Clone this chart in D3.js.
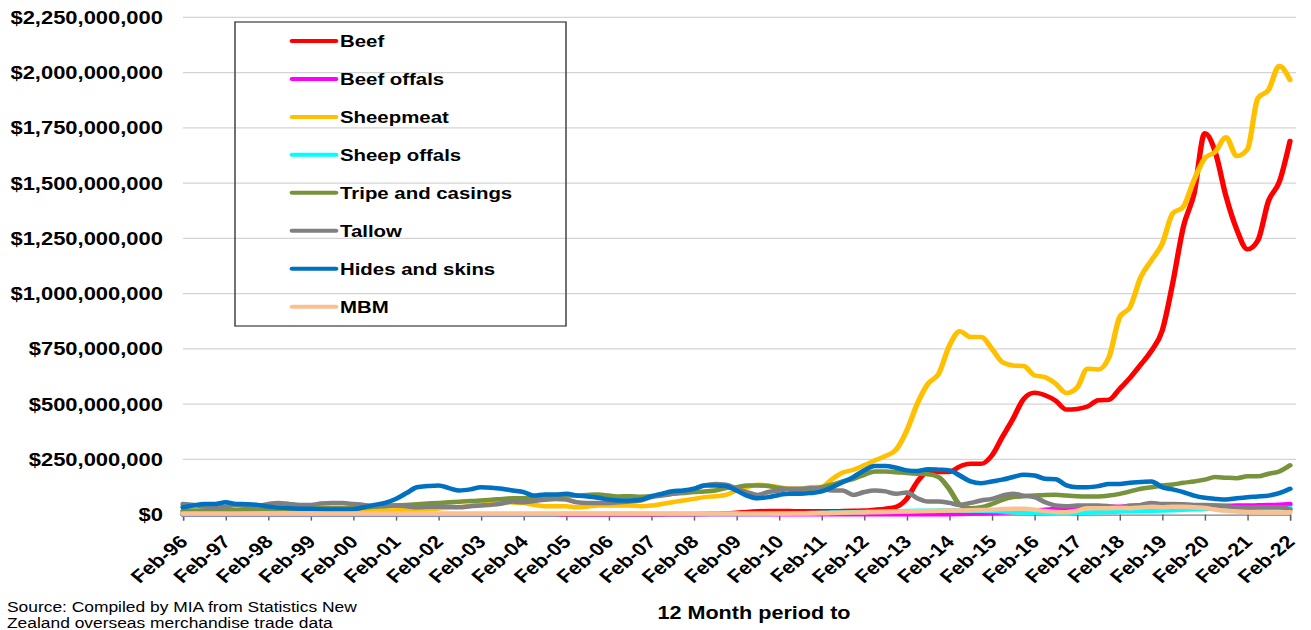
<!DOCTYPE html>
<html>
<head>
<meta charset="utf-8">
<script src="https://cdn.jsdelivr.net/npm/d3@7"></script>
<style>
  html, body { margin: 0; padding: 0; background: #fff; overflow: hidden; }
  svg { display: block; font-family: "Liberation Sans", Arial, Helvetica, sans-serif; }
</style>
</head>
<body>
<div id="chart"></div>
<script>
// ---------- DATA (12-month rolling export values, $ millions, quarterly: Feb, May, Aug, Nov) ----------
const seriesNames = ["Beef", "Beef offals", "Sheepmeat", "Sheep offals", "Tripe and casings", "Tallow", "Hides and skins", "MBM"];
const seriesColors = ["#ff0000", "#ff00ff", "#ffc000", "#00ffff", "#77933c", "#808080", "#0070c0", "#fac090"];
const tickLabels = ["Feb-96","Feb-97","Feb-98","Feb-99","Feb-00","Feb-01","Feb-02","Feb-03","Feb-04","Feb-05","Feb-06","Feb-07","Feb-08","Feb-09","Feb-10","Feb-11","Feb-12","Feb-13","Feb-14","Feb-15","Feb-16","Feb-17","Feb-18","Feb-19","Feb-20","Feb-21","Feb-22"];
const yTickValues = [0, 250, 500, 750, 1000, 1250, 1500, 1750, 2000, 2250];

const beef = [
  1,1,1,1, 1,1,1,1, 1,1,1,1, 1,1,1,1, 1,1,1,1, 1,1,1,1, 1,1,1,1, 1,1,1,1,
  1,1,1,1, 1,1,1,1, 1,1,1,1, 1,1,2,2, 2,3,4,6, 8,12,15,16, 16,16,15,15,
  15,15,16,17, 18,22,27,35, 72,148,193,193, 193,218,230,230, 268,351,434,524,
  551,540,515,475, 478,489,517,520, 569,619,679,742, 833,1045,1302,1453,
  1725,1640,1440,1290, 1200,1240,1420,1505, 1690
];
const beefOffals = [
  2,2,2,2, 2,2,2,2, 2,2,2,2, 2,2,2,2, 2,2,2,2, 2,2,2,2, 2,2,2,2, 2,2,2,2,
  2,2,2,2, 2,2,2,2, 2,2,2,2, 2,2,2,2, 2,2,2,2, 2,2,2,2, 2,2,2,2,
  2,2,2,2, 2,2,2,2, 2,2,2,2, 2,3,4,5, 6,9,12,15,
  18,22,26,30, 33,35,36,36, 36,37,37,38, 38,38,39,39,
  40,40,40,41, 41,42,43,45, 48
];
const sheepmeat = [
  12,12,12,12, 13,13,13,13, 14,14,14,14, 14,14,15,15, 15,16,18,18, 20,21,22,24, 28,31,35,40, 45,52,60,55,
  52,44,38,38, 38,33,36,41, 41,41,41,38, 41,48,56,64, 71,79,83,89, 109,124,135,132, 124,117,117,124,
  125,160,190,203, 223,245,265,294, 381,501,592,637, 765,830,803,803, 750,690,675,672,
  630,622,592,550, 575,660,657,712, 894,939,1075,1151, 1226,1362,1393,1514,
  1612,1642,1707,1622, 1653,1884,1922,2030, 1967
];
const sheepOffals = [
  2,2,2,2, 2,2,2,2, 2,2,2,2, 2,2,2,2, 2,2,2,2, 2,2,2,2, 2,2,2,2, 2,2,2,2,
  2,2,2,2, 3,3,3,3, 3,3,3,3, 3,3,3,3, 3,3,3,3, 3,3,3,3, 4,5,6,7,
  8,9,10,11, 12,13,14,15, 16,17,17,18, 18,18,17,17, 16,14,12,10,
  8,6,4,4, 8,10,11,12, 14,15,16,17, 18,20,22,24,
  26,28,29,28, 28,28,29,30, 30
];
const tripe = [
  17,18,19,20, 21,22,24,25, 26,27,28,29, 30,30,30,30, 30,32,35,38, 41,44,47,50, 53,56,58,61, 64,67,71,74,
  74,79,79,83, 86,86,89,91, 86,82,83,81, 83,89,94,98, 102,105,109,120, 124,132,132,129, 120,114,109,117,
  124,135,150,162, 180,195,195,192, 188,185,183,170, 115,45,29,33, 48,67,79,83,
  86,89,90,86, 83,82,82,86, 94,105,117,124, 132,136,144,150,
  158,170,167,165, 173,173,185,195, 223
];
const tallow = [
  48,44,36,33, 36,44,41,38, 48,53,48,44, 44,50,53,52, 48,44,38,41, 41,38,33,35, 36,35,33,38, 41,44,50,59,
  56,62,67,71, 68,56,53,53, 53,56,59,64, 79,86,94,102, 114,132,139,135, 117,102,89,102, 109,117,117,120,
  117,109,109,89, 102,109,105,94, 100,74,59,59, 53,44,53,64, 71,86,94,86,
  79,56,41,38, 41,41,41,38, 33,41,44,53, 48,48,47,44,
  44,41,38,33, 32,33,33,33, 23
];
const hides = [
  33,41,48,48, 56,48,47,44, 36,32,29,27, 26,24,23,23, 24,33,44,53, 71,97,124,129, 132,120,109,114, 124,122,117,109,
  102,86,91,91, 94,86,82,76, 68,64,64,67, 83,94,106,109, 117,132,132,129, 109,86,74,79, 89,94,94,98,
  105,124,147,170, 200,220,220,212, 200,197,205,203, 200,177,150,142, 150,158,170,180,
  177,162,160,132, 124,124,129,139, 139,144,147,150, 124,114,102,86,
  76,71,68,74, 79,82,86,97, 117
];
const mbm = [
  5,5,5,5, 5,5,5,5, 5,5,5,5, 5,5,5,5, 5,5,5,5, 5,5,5,5, 5,5,5,5, 5,5,5,5,
  5,5,5,5, 5,5,5,5, 5,5,5,5, 5,5,5,5, 5,5,5,5, 5,5,5,5, 5,5,5,5,
  6,7,8,9, 10,11,12,13, 14,15,16,17, 18,19,20,21, 22,25,27,26,
  22,16,12,11, 18,29,29,29, 30,29,32,36, 33,36,36,33,
  30,23,17,14, 11,11,9,10, 11
];
const seriesValues = [beef, beefOffals, sheepmeat, sheepOffals, tripe, tallow, hides, mbm];

// ---------- LAYOUT ----------
const W = 1311, H = 630;
const SX = 1.2;                 // the reference is horizontally stretched
const ix = v => v / SX;         // real pixel x -> inner x
const periods = beef.map((_, i) => new Date(1996, 1 + 3 * i, 1));

const svg = d3.select("#chart").append("svg")
  .attr("width", W).attr("height", H)
  .attr("viewBox", `0 0 ${W / SX} ${H}`)
  .attr("preserveAspectRatio", "none");

const x = d3.scaleTime()
  .domain([new Date(1996, 1, 1), new Date(2022, 1, 1)])
  .range([ix(183), ix(1290)]);
const y = d3.scaleLinear().domain([0, 2250]).range([514.6, 17.3]);

// gridlines
svg.append("g").selectAll("line")
  .data(yTickValues.filter(d => d > 0))
  .join("line")
  .attr("x1", ix(183)).attr("x2", ix(1296))
  .attr("y1", d => y(d)).attr("y2", d => y(d))
  .attr("stroke", "#d4d4d4").attr("stroke-width", 1.2);

// y axis labels
const fmt = d3.format(",");
svg.append("g").selectAll("text")
  .data(yTickValues)
  .join("text")
  .attr("x", ix(163)).attr("y", d => y(d)).attr("dy", "0.36em")
  .attr("text-anchor", "end")
  .attr("font-size", 18.3).attr("font-weight", "bold").attr("fill", "#000")
  .text(d => "$" + fmt(d * 1e6));

// x axis
const tickDates = tickLabels.map((_, i) => new Date(1996 + i, 1, 1));
const xAxis = d3.axisBottom(x).tickValues(tickDates).tickSize(6).tickFormat("");
const gx = svg.append("g").attr("transform", `translate(0,${y(0)})`).call(xAxis);
gx.select(".domain").attr("stroke", "#808080").attr("stroke-width", 1.2);
gx.selectAll(".tick line").attr("stroke", "#606060").attr("stroke-width", 1.2);

svg.append("g").selectAll("text")
  .data(tickDates)
  .join("text")
  .attr("transform", (d) => `translate(${x(d) + ix(6)},543) rotate(-45)`)
  .attr("text-anchor", "end")
  .attr("font-size", 18).attr("font-weight", "bold").attr("fill", "#000")
  .text((d, i) => tickLabels[i]);

// series lines
const line = d3.line()
  .x((d, i) => x(periods[i]))
  .y(d => y(d))
  .curve(d3.curveMonotoneX);

svg.append("g").selectAll("path")
  .data(seriesValues)
  .join("path")
  .attr("d", d => line(d))
  .attr("fill", "none")
  .attr("stroke", (d, i) => seriesColors[i])
  .attr("stroke-width", 4.5)
  .attr("stroke-linejoin", "round")
  .attr("stroke-linecap", "round");

// legend
const lg = svg.append("g");
lg.append("rect")
  .attr("x", ix(235)).attr("y", 22)
  .attr("width", ix(566) - ix(235)).attr("height", 304)
  .attr("fill", "none").attr("stroke", "#4a4a4a").attr("stroke-width", 1.3);
const items = lg.selectAll("g.item").data(seriesNames).join("g").attr("class", "item")
  .attr("transform", (d, i) => `translate(0,${41 + 37.95 * i})`);
items.append("line")
  .attr("x1", ix(292)).attr("x2", ix(336)).attr("y1", 0).attr("y2", 0)
  .attr("stroke", (d, i) => seriesColors[i]).attr("stroke-width", 4).attr("stroke-linecap", "round");
items.append("text")
  .attr("x", ix(340)).attr("y", 0).attr("dy", "0.36em")
  .attr("font-size", 17).attr("font-weight", "bold").attr("fill", "#000")
  .text(d => d);

// axis title and source
svg.append("text")
  .attr("x", ix(754)).attr("y", 619)
  .attr("text-anchor", "middle")
  .attr("font-size", 18).attr("font-weight", "bold").attr("fill", "#000")
  .text("12 Month period to");

svg.append("text")
  .attr("x", ix(7)).attr("y", 612)
  .attr("font-size", 14.5).attr("fill", "#000")
  .text("Source: Compiled by MIA from Statistics New");
svg.append("text")
  .attr("x", ix(7)).attr("y", 628.5)
  .attr("font-size", 14.5).attr("fill", "#000")
  .text("Zealand overseas merchandise trade data");
</script>
</body>
</html>
